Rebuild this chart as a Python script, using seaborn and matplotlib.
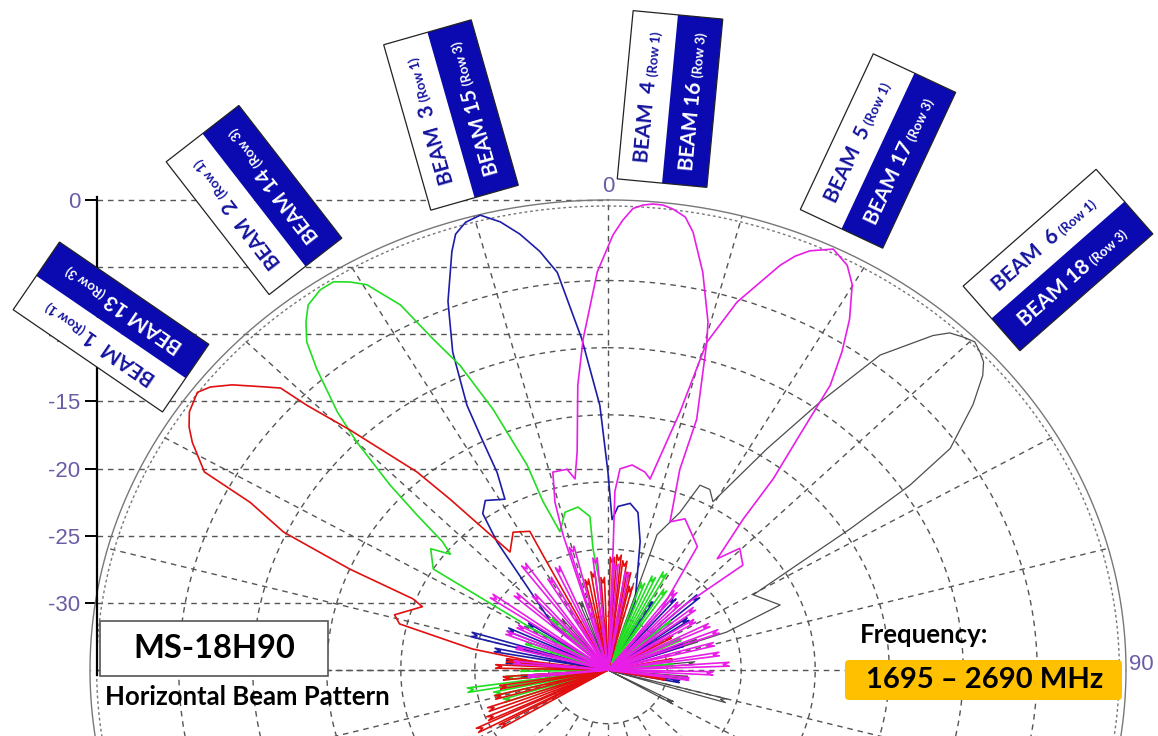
import numpy as np
import pandas as pd
import seaborn as sns
import matplotlib.pyplot as plt
from matplotlib.patches import Rectangle, FancyBboxPatch
from matplotlib.transforms import Affine2D

# beam patterns: azimuth (deg, clockwise from 0) and level (dB)
b1_ang = [-90, -86, -80.3, -76.3, -74.1, -69.4, -68.1, -66.7, -64.9, -62.7, -61.6, -58.9, -57.4, -55.8,
          -53.3, -51.9, -50.1, -48.1, -46.5, -45.9, -44.3, -41.2, -40.0, -37.0, -32.0, -27.1, -27.2, -20]
b1_db = [-35, -31.7, -25.7, -20.5, -20.0, -21.6, -20.8, -16.0, -10.8, -7.8, -4.0, -2.2, -1.4, -0.8,
         -0.4, -0.85, -1.9, -3.4, -4.5, -6.7, -10.0, -15.4, -18.4, -24.0, -22.9, -23.4, -25.4, -35]

b2_ang = [-62, -59, -57.5, -53, -51, -49.5, -48.2, -46.9, -45.0, -43.6, -41.3, -39.8, -38.2, -36.7, -34.5,
          -32.7, -31.1, -29.6, -27.3, -25.6, -23.8, -21.8, -19.7, -19.3, -17.5, -13.9, -9.5, -6.1, -6.4,
          -4.9, 0]
b2_db = [-35, -29, -21.0, -20.0, -21.3, -20.3, -17.7, -14.8, -11.0, -8.5, -5.2, -3.2, -2.0, -1.1, -0.66,
         -0.65, -1.26, -2.0, -4.4, -7.7, -10.2, -14.1, -18.8, -21.7, -24.2, -22.9, -22.7, -23.5, -25.9,
         -28.6, -35]

b3_ang = [-50, -48, -38.2, -36.0, -33.3, -28.7, -27.0, -26.3, -25.8, -23.9, -21.5, -18.7, -17.6, -16.1,
          -14.3, -12.3, -10.4, -8.4, -6.6, -4.1, -1.6, 0, 1.4, 3.2, 6.9, 9.8, 12.8, 19.8, 22]
b3_db = [-35, -30, -22.9, -20.6, -19.9, -20.5, -18.5, -15.5, -13.1, -9.1, -5.5, -2.1, -0.95, -0.3,
         -0.05, -0.85, -2.0, -3.5, -5.2, -10.3, -15.3, -20.3, -23.8, -22.8, -22.5, -23.1, -25.2, -29.6, -35]

b4_ang = [-18, -16.8, -16.0, -14.2, -10.5, -8.9, -7.3, -5.5, -3.9, -1.4, 0.6, 1.7, 2.8, 3.9, 5.0, 6.1,
          7.3, 8.8, 10.0, 12.2, 14.6, 15.3, 17.8, 18.0, 20.8, 24.8, 33.3, 39, 42]
b4_db = [-35, -24.5, -22.0, -19.8, -19.8, -20.6, -18.6, -13.7, -10.3, -5.35, -2.6, -1.5, -0.6, -0.3,
         -0.17, -0.18, -0.4, -0.87, -1.9, -4.7, -8.2, -9.7, -15.4, -19.3, -23.2, -22.6, -24.0, -29.4, -35]

b5_ang = [0, 2.2, 2.0, 3.1, 6.1, 9.6, 11.3, 14.2, 15.3, 17.65, 21.1, 22.3, 23.6, 25.9, 28.2, 29.9, 32.0,
          33.7, 35.3, 36.5, 38.1, 39.1, 41.7, 44.5, 49.4, 47, 50]
b5_db = [-35, -26, -21.7, -20.0, -19.65, -20.05, -20.5, -15.2, -9.7, -6.25, -2.7, -1.7, -0.94, -0.16,
         -0.8, -1.9, -4.2, -6.5, -9.0, -13.2, -16.9, -20.5, -23.9, -22.3, -23.0, -27.8, -35]

b6_ang = [15, 18.2, 22.5, 24.3, 27.1, 29.5, 33.1, 35.7, 38.1, 41.4, 42.6, 44.05, 45.4, 46.7, 47.9, 49.1,
          51.3, 54.5, 56.0, 57.3, 58.5, 60.3, 67.4, 70.6, 75]
b6_db = [-35, -24.4, -22.3, -19.9, -19.9, -20.6, -15.35, -10.4, -5.2, -1.8, -0.9, -0.5, -0.2, -0.47,
         -0.8, -1.5, -3.4, -6.6, -10.4, -15.6, -20.0, -23.7, -22.4, -26.5, -35]

# far sidelobe spikes near the centre: azimuth / peak level
red_spk_ang = [-120, -117, -114, -110, -105, -100, -95, -88, -84, -12, -8, -3, 2, 5, 8, 11, 14, 60, 80, 100]
red_spk_db = [-27, -25.5, -26.5, -26.8, -27.5, -28, -28.3, -27.8, -28.5, -28.5, -28, -28.5, -27, -26.8,
              -27.2, -28, -29, -30.5, -31, -31.5]
green_spk_ang = [-108, -103, -99, -95, -90, -70, -45, 20, 24, 28, 33, 50, 65, 85]
green_spk_db = [-28, -27.5, -25.8, -28.5, -29.5, -29.5, -30, -28.5, -27.8, -27.2, -28.3, -29.8, -30, -31]
blue_spk_ang = [-95, -85, -79, -74, -66, -58, 30, 40, 48, 55, 70, 100]
blue_spk_db = [-29.5, -28.5, -27.6, -25.8, -28, -29, -29.5, -28.4, -27.2, -28.8, -30, -30.5]
mag_spk_ang = [-95, -85, -75, -68, -62, -55, -48, -42, -36, -30, -24, -15, -6, 4, 10, 38, 44, 52, 58,
               64, 69, 75, 81, 87, 92, 97]
mag_spk_db = [-30, -29, -29, -28, -28.5, -25.8, -27, -27.9, -25.7, -27.5, -27, -25.9, -27, -27.5, -28,
              -28, -28.5, -28, -28.5, -27.8, -27.4, -28, -27.8, -27.2, -28.3, -29.9]
gray_spk_ang = [-40, -20, 70, 85, 96, 106, 119]
gray_spk_db = [-30.5, -30, -29, -29.5, -30, -27.1, -30.4]

tick_levels = [0, -5, -10, -15, -20, -25, -30]
ring_levels = [-6, -11, -16, -21, -26, -31]
row1_beams = [1, 2, 3, 4, 5, 6]
row3_beams = [13, 14, 15, 16, 17, 18]

sns.set_style("white")
plt.rcParams['font.family'] = ['Lato', 'DejaVu Sans']

W, H = 1158, 736
SX, SY = 14.8, 13.43          # pixels per dB, horizontally / vertically
CX, CY = 608, 670             # pattern centre in pixels
FLOOR = -35

fig = plt.figure(figsize=(W / 100, H / 100), dpi=100)
ax = fig.add_axes([0, 0, 1, 1])
ax.set_xlim(-CX / SX, (W - CX) / SX)
ax.set_ylim(-(H - CY) / SY, CY / SY)
spine_x = (97 - CX) / SX


def to_xy(ang, db):
    a = np.radians(np.asarray(ang, float))
    r = np.clip(np.asarray(db, float) - FLOOR, 0, None)
    return r * np.sin(a), r * np.cos(a)


# grid
gkw = dict(color='#555555', lw=1.0, ls=(0, (4, 3.5)), zorder=1)
t = np.linspace(0, 2 * np.pi, 721)
for lvl in ring_levels:
    r = lvl - FLOOR
    ax.plot(r * np.sin(t), r * np.cos(t), **gkw)
for a in np.radians(np.arange(0, 360, 15)):
    ax.plot([4 * np.sin(a), 35 * np.sin(a)], [4 * np.cos(a), 35 * np.cos(a)], **gkw)
for lvl in tick_levels + [FLOOR]:
    ax.plot([spine_x, 0], [lvl - FLOOR] * 2, **gkw)
ax.plot(35 * np.sin(t), 35 * np.cos(t), color='#777777', lw=1.0, zorder=1)
ax.plot(34.55 * np.sin(t), 34.55 * np.cos(t), color='#777777', lw=1.0, ls=(0, (2, 2)), zorder=1)

# dB axis
for s in ['top', 'right', 'bottom']:
    ax.spines[s].set_visible(False)
ax.spines['left'].set_position(('data', spine_x))
ax.spines['left'].set_bounds(-0.4, 35.2)
ax.spines['left'].set_linewidth(1.6)
ax.spines['left'].set_color('black')
ax.set_xticks([])
ax.set_yticks([l - FLOOR for l in tick_levels])
ax.set_yticklabels([str(l) for l in tick_levels], color='#6b5ca5', fontsize=16,
                   family='Liberation Sans')
ax.tick_params(axis='y', length=9, width=1.4, color='black', pad=3, left=True)

# beams
beams = [
    ('#4d4d4d', 0.9, [(b6_ang, b6_db)], (gray_spk_ang, gray_spk_db)),
    ('#1c1ca8', 1.2, [(b3_ang, b3_db)], (blue_spk_ang, blue_spk_db)),
    ('#22dd22', 1.2, [(b2_ang, b2_db)], (green_spk_ang, green_spk_db)),
    ('#e01010', 1.2, [(b1_ang, b1_db)], (red_spk_ang, red_spk_db)),
    ('#e81ee8', 1.2, [(b4_ang, b4_db), (b5_ang, b5_db)], (mag_spk_ang, mag_spk_db)),
]
for color, lw, mains, (s_ang, s_db) in beams:
    frames = []
    pid = 0
    for ang, db in mains:
        x, y = to_xy(ang, db)
        frames.append(pd.DataFrame({'x': x, 'y': y, 'path': pid}))
        pid += 1
    for a, l in zip(s_ang, s_db):
        x, y = to_xy([a, a - 1.0, a, a + 1.0, a], [FLOOR, l + 0.4, l, l + 0.4, FLOOR])
        frames.append(pd.DataFrame({'x': x, 'y': y, 'path': pid}))
        pid += 1
    df = pd.concat(frames, ignore_index=True)
    sns.lineplot(data=df, x='x', y='y', units='path', estimator=None, sort=False,
                 color=color, linewidth=lw, ax=ax, legend=False, zorder=3)
ax.set_xlabel('')
ax.set_ylabel('')

# overlay in pixel coordinates for the annotation boxes
ov = fig.add_axes([0, 0, 1, 1], label='overlay')
ov.set_xlim(0, W)
ov.set_ylim(0, H)
ov.axis('off')
ov.patch.set_alpha(0)

theta_kw = dict(color='#6b5ca5', fontsize=16, family='Liberation Sans', ha='center', va='center')
ov.text(608, H - 186, '0', **theta_kw)
ov.text(1141, H - 665, '90', **theta_kw)

box_fill = '#0a0ab0'
text_blue = '#14149e'
boxes = [(111, 327, 181, 82, 145.6), (254, 200, 168, 92, 127.8), (451, 115, 172, 91, 105.9),
         (670, 99, 169, 90, 84.6), (878, 151, 172, 91, 64.9), (1058, 260, 177, 86, 41.3)]
renderer = fig.canvas.get_renderer()


def text_w(s, size):
    tt = ov.text(0, 0, s, fontsize=size, fontweight='bold')
    w = tt.get_window_extent(renderer).width
    tt.remove()
    return w


for (bx, by, L, S, rot), n1, n3 in zip(boxes, row1_beams, row3_beams):
    A = Affine2D().rotate_deg(rot).translate(bx, H - by)
    T = A + ov.transData
    ov.add_patch(Rectangle((-L / 2, 0), L, S / 2, facecolor='white', edgecolor='none', transform=T, zorder=6))
    ov.add_patch(Rectangle((-L / 2, -S / 2), L, S / 2, facecolor=box_fill, edgecolor='none', transform=T, zorder=6))
    ov.add_patch(Rectangle((-L / 2, -S / 2), L, S, facecolor='none', edgecolor='#222222', lw=0.9,
                           transform=T, zorder=7))
    main1 = f'BEAM  {n1}' if n1 < 10 else f'BEAM {n1}'
    for main, small, yc, col in [(main1, '(Row 1)', S / 4, text_blue),
                                 (f'BEAM {n3}', '(Row 3)', -S / 4, 'white')]:
        w1 = text_w(main, 15)
        w2 = text_w(small, 9.5)
        x0 = -(w1 + 4 + w2) / 2
        base = yc - 7
        p1 = A.transform((x0, base))
        p2 = A.transform((x0 + w1 + 4, base))
        ov.text(p1[0], p1[1], main, rotation=rot, rotation_mode='anchor', ha='left', va='baseline',
                fontsize=15, fontweight='bold', color=col, zorder=8)
        ov.text(p2[0], p2[1], small, rotation=rot, rotation_mode='anchor', ha='left', va='baseline',
                fontsize=9.5, fontweight='bold', color=col, zorder=8)

# model / frequency captions
ov.add_patch(Rectangle((100, H - 676), 228, 55, facecolor='white', edgecolor='#555555', lw=1.2, zorder=6))
ov.text(214, H - 648, 'MS-18H90', fontsize=23.5, fontweight='bold', color='black',
        ha='center', va='center', zorder=7)
ov.text(105, H - 705, 'Horizontal Beam Pattern', fontsize=18.5, fontweight='bold', color='black',
        ha='left', va='baseline', zorder=7)
ov.text(860, H - 643, 'Frequency:', fontsize=18.5, fontweight='bold', color='black',
        ha='left', va='baseline', zorder=7)
ov.add_patch(FancyBboxPatch((849, H - 696), 269, 32, boxstyle='round,pad=4,rounding_size=4',
                            facecolor='#ffc000', edgecolor='none', zorder=6))
ov.text(985, H - 680, '1695 \u2013 2690 MHz', fontsize=21, fontweight='bold', color='black',
        ha='center', va='center', zorder=7)

fig.savefig('out.png', dpi=100)
